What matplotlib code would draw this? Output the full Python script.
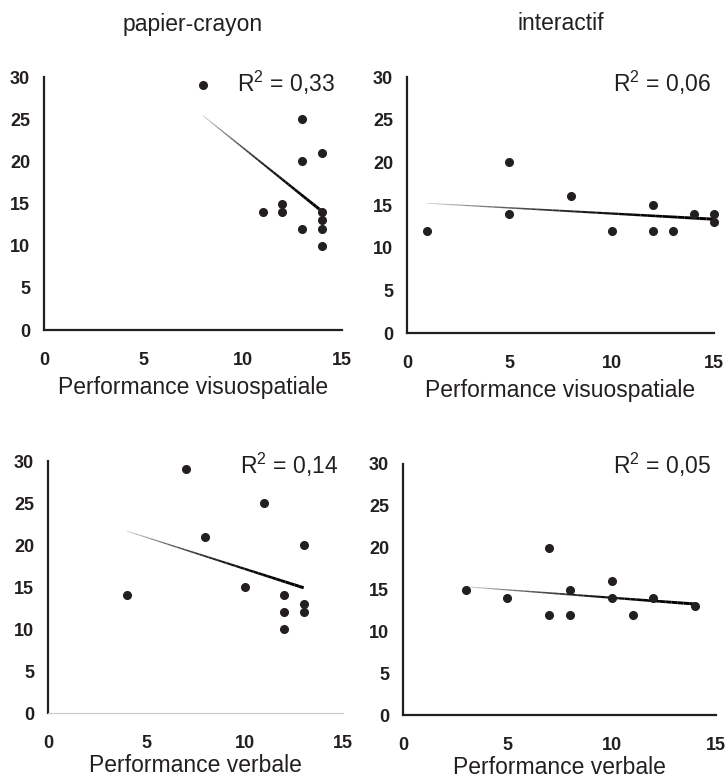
import numpy as np
import matplotlib
matplotlib.use("Agg")
import matplotlib.pyplot as plt
from matplotlib.collections import LineCollection

plt.rcParams["font.family"] = ["Liberation Sans", "DejaVu Sans"]
plt.rcParams["mathtext.fontset"] = "custom"
plt.rcParams["mathtext.rm"] = "Liberation Sans"
plt.rcParams["mathtext.default"] = "regular"

INK = "#231f20"

# data
vis_pc_x = [8, 13, 14, 13, 12, 12, 11, 14, 14, 13, 14, 14]
vis_pc_y = [29, 25, 21, 20, 15, 14, 14, 14, 13, 12, 12, 10]
vis_int_x = [1, 5, 5, 8, 10, 12, 12, 13, 14, 15, 15]
vis_int_y = [12, 20, 14, 16, 12, 15, 12, 12, 14, 14, 13]
verb_pc_x = [4, 7, 8, 11, 10, 13, 12, 12, 12, 13, 13]
verb_pc_y = [14, 29, 21, 25, 15, 20, 14, 12, 10, 13, 12]
verb_int_x = [3, 5, 7, 7, 8, 8, 10, 10, 11, 12, 14]
verb_int_y = [15, 14, 20, 12, 15, 12, 16, 14, 12, 14, 13]
r2_labels = ["0,33", "0,06", "0,14", "0,05"]
titles = ["papier-crayon", "interactif"]
xlabels = ["Performance visuospatiale", "Performance verbale"]
xticks = [0, 5, 10, 15]
yticks = [0, 5, 10, 15, 20, 25, 30]

W, H = 728, 780


def rect(left, right, top, bottom):
    return [left / W, 1 - bottom / H, (right - left) / W, (bottom - top) / H]


fig = plt.figure(figsize=(W / 100, H / 100), dpi=100)

panels = [
    (rect(44, 342, 77, 330), vis_pc_x, vis_pc_y, r2_labels[0], xlabels[0], (0.977, 0.94)),
    (rect(407, 714, 77, 333), vis_int_x, vis_int_y, r2_labels[1], xlabels[0], (0.99, 0.94)),
    (rect(48, 343, 461, 713), verb_pc_x, verb_pc_y, r2_labels[2], xlabels[1], (0.983, 0.95)),
    (rect(403, 716, 464, 715), verb_int_x, verb_int_y, r2_labels[3], xlabels[1], (0.984, 0.96)),
]

axes = []
for i, (pos, xs, ys, r2, xlab, txy) in enumerate(panels):
    ax = fig.add_axes(pos)
    axes.append(ax)
    ax.set_xlim(0, 15)
    ax.set_ylim(0, 30)

    # trend line, light to dark like the original
    slope, icpt = np.polyfit(xs, ys, 1)
    lx = np.linspace(min(xs), max(xs), 40)
    ly = slope * lx + icpt
    pts = np.array([lx, ly]).T.reshape(-1, 1, 2)
    segs = np.concatenate([pts[:-1], pts[1:]], axis=1)
    t = np.linspace(0, 1, len(segs))
    g = 0.8 * (1 - t) ** 2.5
    lc = LineCollection(segs, colors=np.c_[g, g, g], linewidths=0.6 + 1.6 * t, zorder=2)
    ax.add_collection(lc)

    ax.plot(xs, ys, "o", color=INK, markersize=5.5, clip_on=False, zorder=3)

    ax.text(txy[0], txy[1], r"R$^{2}$ = " + r2, transform=ax.transAxes,
            ha="right", va="baseline", fontsize=16.5, color=INK)

    for side in ["top", "right"]:
        ax.spines[side].set_visible(False)
    for side in ["left", "bottom"]:
        ax.spines[side].set_color(INK)
        ax.spines[side].set_linewidth(1.6)
    if i == 2:
        ax.spines["bottom"].set_color("#c8c8c8")
        ax.spines["bottom"].set_linewidth(0.8)

    ax.set_xticks(xticks)
    ax.set_yticks(yticks)
    ax.tick_params(length=0, labelsize=13, colors=INK)
    ax.tick_params(axis="x", pad=16)
    ax.tick_params(axis="y", pad=10)
    for lab in ax.get_xticklabels() + ax.get_yticklabels():
        lab.set_fontweight("bold")
    ax.set_xlabel(xlab, fontsize=16.5, color=INK, labelpad=5 if i < 2 else 1)

for ax, title in zip(axes[:2], titles):
    pos = ax.get_position()
    fig.text((pos.x0 + pos.x1) / 2, 1 - 24 / H, title, fontsize=16.5,
             color=INK, ha="center", va="center")

fig.savefig("out.png", dpi=100, facecolor="white")
